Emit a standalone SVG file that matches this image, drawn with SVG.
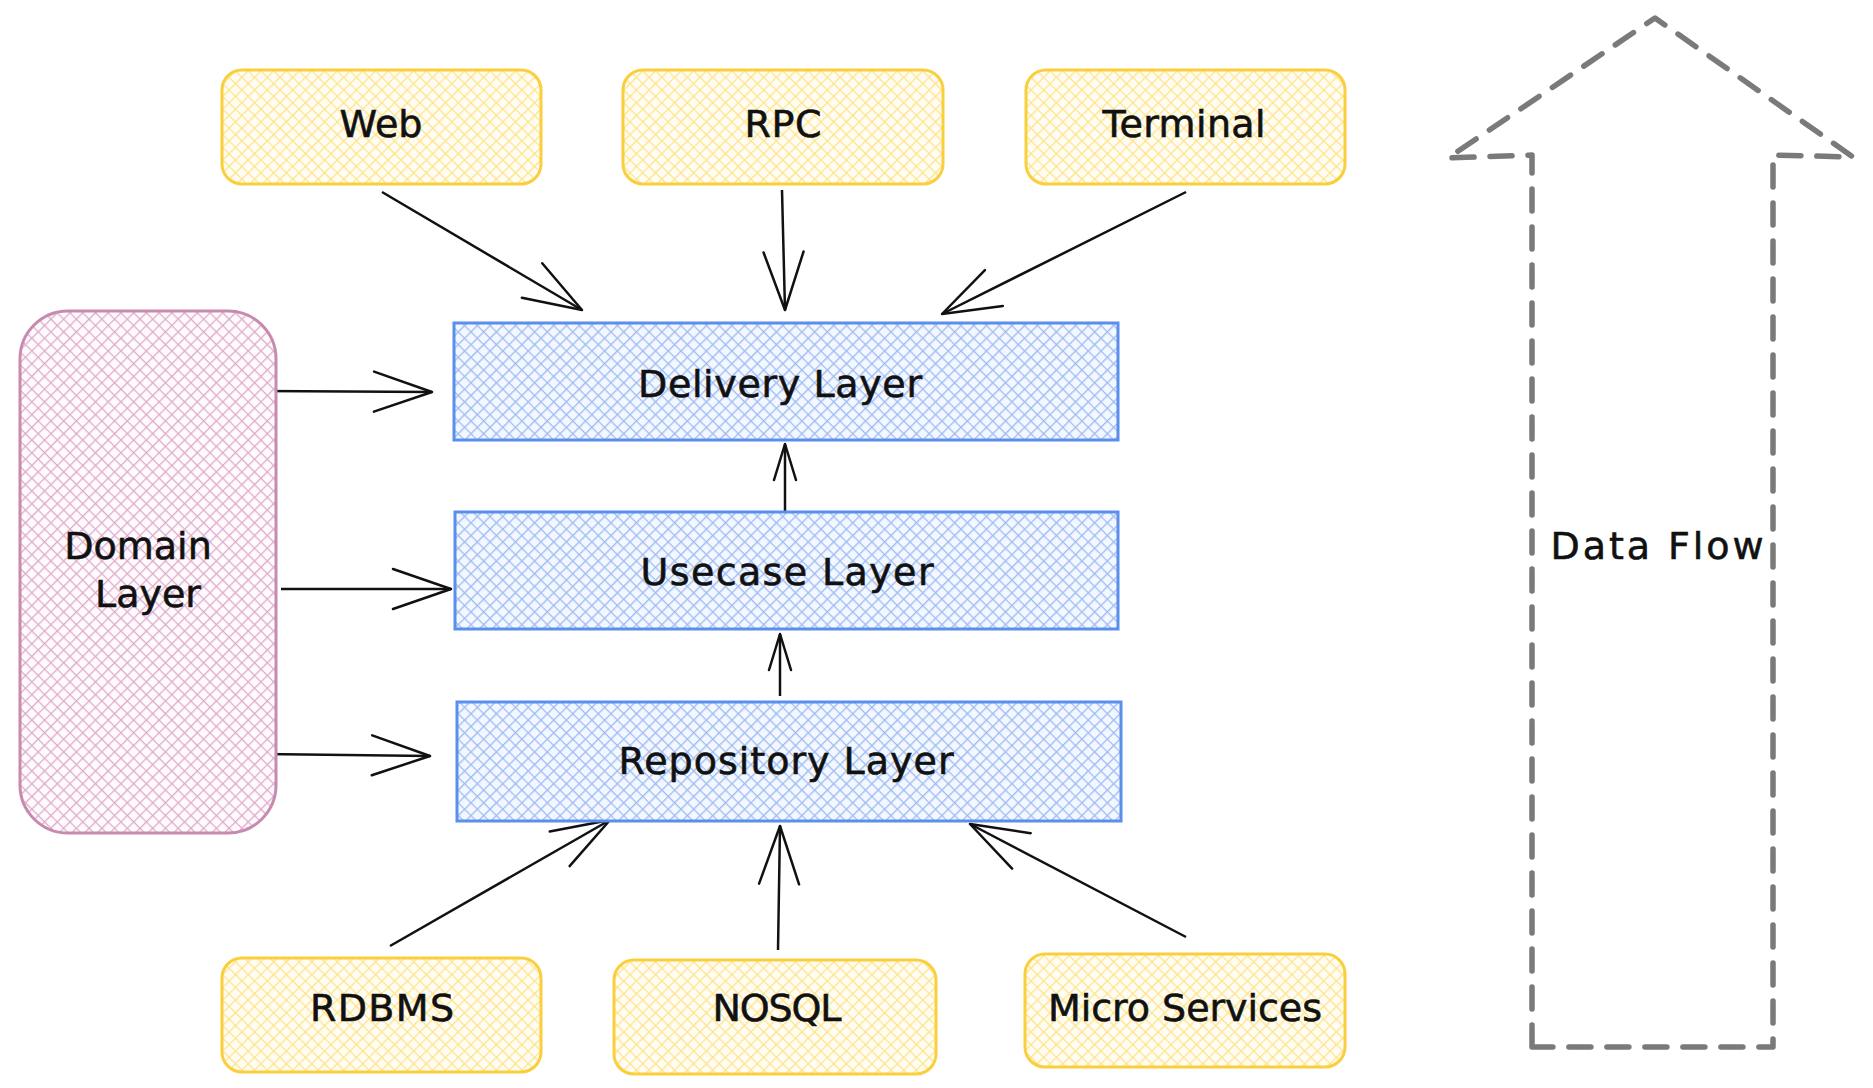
<svg xmlns="http://www.w3.org/2000/svg" width="1873" height="1088" viewBox="0 0 1873 1088">
<style>
  text { font-family: "DejaVu Sans", "Liberation Sans", sans-serif; font-size: 38px; fill: #111; stroke: #111; stroke-width: 0.6; text-anchor: middle; dominant-baseline: central; }
  .yel { fill: url(#hy); stroke: #f9cf3d; stroke-width: 3; }
  .blu { fill: url(#hb); stroke: #5b8fec; stroke-width: 3; }
  .pnk { fill: url(#hp); stroke: #c78bb0; stroke-width: 3; }
  .conn { fill: none; stroke: #111; stroke-width: 2.5; }
  .big { marker-end: url(#ah); }
  .small { marker-end: url(#as); }
  .flow { fill: none; stroke: #7a7a7a; stroke-width: 5.5; stroke-dasharray: 22 16; stroke-linecap: round; stroke-linejoin: round; }
</style>
<defs>
  <pattern id="hy" width="9" height="9" patternUnits="userSpaceOnUse" patternTransform="rotate(45)">
    <rect width="9" height="9" fill="#fffdf3"/>
    <path d="M0 0.6H9M0.6 0V9" stroke="#ffe38a" stroke-width="1.4"/>
  </pattern>
  <pattern id="hb" width="9" height="9" patternUnits="userSpaceOnUse" patternTransform="rotate(45)">
    <rect width="9" height="9" fill="#f3f7ff"/>
    <path d="M0 0.6H9M0.6 0V9" stroke="#9fbcf3" stroke-width="1.5"/>
  </pattern>
  <pattern id="hp" width="9" height="9" patternUnits="userSpaceOnUse" patternTransform="rotate(45)">
    <rect width="9" height="9" fill="#fffafd"/>
    <path d="M0 0.6H9M0.6 0V9" stroke="#deaccb" stroke-width="1.4"/>
  </pattern>
  <marker id="ah" markerUnits="userSpaceOnUse" viewBox="-70 -30 80 60" refX="0" refY="0" markerWidth="80" markerHeight="60" orient="auto" overflow="visible">
    <path d="M-58,-20 L0,0 L-58,20" fill="none" stroke="#111" stroke-width="2.5" stroke-linecap="round" stroke-linejoin="round"/>
  </marker>
  <marker id="as" markerUnits="userSpaceOnUse" viewBox="-50 -20 60 40" refX="0" refY="0" markerWidth="60" markerHeight="40" orient="auto" overflow="visible">
    <path d="M-36,-11 L0,0 L-36,11" fill="none" stroke="#111" stroke-width="2.5" stroke-linecap="round" stroke-linejoin="round"/>
  </marker>
</defs>
<rect width="1873" height="1088" fill="#ffffff"/>

<g id="connectors">
  <path class="conn big" d="M382,192 L582,310"/>
  <path class="conn big" d="M782,190 L785,310"/>
  <path class="conn big" d="M1186,192 L942,314"/>
  <path class="conn big" d="M262,391 L432,392"/>
  <path class="conn big" d="M281,589 L451,589"/>
  <path class="conn big" d="M262,754 L430,756"/>
  <path class="conn small" d="M785,511 L785,444"/>
  <path class="conn small" d="M780,696 L780,634"/>
  <path class="conn big" d="M390,946 L610,820"/>
  <path class="conn big" d="M778,950 L780,826"/>
  <path class="conn big" d="M1186,937 L970,824"/>
</g>

<g id="web">
  <rect class="yel" x="222" y="70" width="319" height="114" rx="20"/>
  <text x="381" y="124">Web</text>
</g>
<g id="rpc">
  <rect class="yel" x="623" y="70" width="320" height="114" rx="20"/>
  <text x="783" y="124" textLength="77">RPC</text>
</g>
<g id="terminal">
  <rect class="yel" x="1026" y="70" width="319" height="114" rx="20"/>
  <text x="1184" y="124" textLength="163">Terminal</text>
</g>

<g id="delivery">
  <rect class="blu" x="454" y="323" width="664" height="117"/>
  <text x="780" y="384" textLength="284">Delivery Layer</text>
</g>
<g id="usecase">
  <rect class="blu" x="455" y="512" width="663" height="117"/>
  <text x="787" y="572" textLength="293">Usecase Layer</text>
</g>
<g id="repository">
  <rect class="blu" x="457" y="702" width="664" height="119"/>
  <text x="786" y="761" textLength="335">Repository Layer</text>
</g>

<g id="domain">
  <rect class="pnk" x="20" y="311" width="256" height="522" rx="48"/>
  <text x="138" y="546">Domain</text>
  <text x="148" y="594">Layer</text>
</g>

<g id="rdbms">
  <rect class="yel" x="222" y="958" width="319" height="114" rx="20"/>
  <text x="382" y="1008" textLength="144">RDBMS</text>
</g>
<g id="nosql">
  <rect class="yel" x="614" y="960" width="322" height="114" rx="20"/>
  <text x="777" y="1008" textLength="129">NOSQL</text>
</g>
<g id="micro">
  <rect class="yel" x="1025" y="954" width="320" height="113" rx="20"/>
  <text x="1185" y="1008" textLength="274">Micro Services</text>
</g>

<g id="dataflow">
  <path class="flow" d="M1532,1047 L1532,155 L1448,158 L1655,18 L1853,157 L1773,155 L1773,1047 Z"/>
  <text x="1657" y="546" textLength="213">Data Flow</text>
</g>
</svg>
